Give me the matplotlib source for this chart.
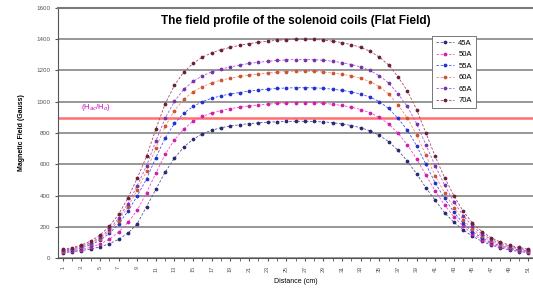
import matplotlib
matplotlib.use('Agg')
import matplotlib.pyplot as plt

plt.rcParams['font.family'] = ['Liberation Sans', 'DejaVu Sans']

# distance positions (cm) and tick labels
distance = list(range(1, 52))
tick_labels = [str(i) for i in range(1, 52, 2)]

labels = ['45A', '50A', '55A', '60A', '65A', '70A']
line_colors = ['#555599', '#FF44CC', '#4455FF', '#FF8866', '#AA55DD', '#AA4466']
marker_colors = ['#2a2a70', '#CC22AA', '#2233CC', '#CC5533', '#7733AA', '#6a2238']

b45 = [35, 40, 48, 58, 72, 92, 120, 160, 220, 330, 440, 550, 640, 710, 760, 795, 818, 834,
       845, 853, 860, 865, 869, 872, 874, 875, 875, 874, 871, 866, 858, 848, 834, 814, 785,
       745, 690, 620, 540, 450, 370, 290, 230, 180, 140, 108, 84, 66, 52, 42, 35]
b50 = [38, 45, 55, 69, 90, 120, 167, 228, 306, 419, 543, 664, 756, 826, 876, 906, 928, 944,
       956, 965, 973, 980, 985, 989, 993, 995, 995, 994, 990, 984, 976, 965, 950, 930, 900,
       858, 800, 725, 635, 530, 430, 340, 265, 203, 155, 118, 92, 72, 57, 46, 38]
b55 = [44, 52, 65, 85, 114, 158, 218, 300, 398, 507, 643, 768, 861, 927, 970, 1001, 1022, 1038,
       1050, 1059, 1068, 1075, 1080, 1085, 1088, 1090, 1090, 1089, 1086, 1080, 1073, 1063, 1049,
       1030, 1001, 957, 894, 818, 719, 600, 480, 382, 294, 223, 169, 129, 100, 80, 63, 52, 44]
b60 = [48, 57, 72, 93, 125, 173, 239, 329, 436, 556, 705, 842, 944, 1016, 1064, 1097, 1121, 1138,
       1151, 1162, 1171, 1178, 1184, 1189, 1193, 1195, 1195, 1194, 1190, 1184, 1176, 1165, 1150,
       1129, 1097, 1049, 980, 896, 789, 657, 526, 418, 323, 245, 185, 141, 110, 87, 69, 57, 48]
b65 = [51, 61, 76, 99, 133, 184, 254, 349, 464, 591, 749, 895, 1003, 1080, 1130, 1166, 1191, 1209,
       1223, 1234, 1245, 1252, 1259, 1264, 1267, 1270, 1270, 1269, 1265, 1259, 1250, 1238, 1222,
       1200, 1166, 1120, 1050, 970, 860, 725, 590, 468, 360, 272, 205, 155, 120, 95, 76, 62, 52]
b70 = [56, 67, 84, 109, 147, 203, 280, 385, 511, 651, 826, 987, 1106, 1190, 1246, 1285, 1313, 1333,
       1348, 1361, 1372, 1380, 1387, 1393, 1397, 1400, 1400, 1399, 1394, 1387, 1378, 1365, 1347,
       1323, 1285, 1235, 1160, 1070, 950, 800, 650, 515, 400, 300, 225, 170, 130, 103, 82, 68, 57]
series = [b45, b50, b55, b60, b65, b70]

ref_level = 895
ref_label = '(H$_{ac}$/H$_{o}$)'

fig = plt.figure(figsize=(5.33, 2.93), dpi=100)
ax = fig.add_axes([0.109, 0.119, 0.891, 0.854])

for vals, lab, lc, mc in zip(series, labels, line_colors, marker_colors):
    ax.plot(distance, vals, linestyle=(0, (3, 2)), lw=0.6, color=lc, marker='o', ms=1.7,
            mfc=mc, mec=mc, label=lab, zorder=3)

ax.axhline(ref_level, color='#FF6F6F', lw=1.8, zorder=2)
ax.text(3, ref_level + 35, ref_label, color='#CC00CC', fontsize=5.5, va='bottom')

ax.set_xlim(0.5, 51.5)
ax.set_ylim(0, 1600)
ax.set_yticks(range(0, 1601, 200))
ax.set_xticks(range(1, 52, 2))
ax.set_xticklabels(tick_labels, rotation=90, fontsize=4, color='#555555')
ax.set_xticks(range(1, 52), minor=True)
ax.tick_params(axis='y', labelsize=4.5, colors='#555555', length=2)
ax.tick_params(axis='x', which='both', length=2, colors='#555555')
ax.yaxis.grid(True, color='#7a7a7a', lw=1.1, zorder=1)
ax.set_axisbelow(True)
ax.spines['right'].set_visible(False)
ax.spines['top'].set_color('#7a7a7a')
ax.spines['top'].set_linewidth(1.5)
ax.spines['left'].set_color('#555555')
ax.spines['bottom'].set_color('#555555')

ax.set_title('The field profile of the solenoid coils (Flat Field)', fontsize=8.5,
             fontweight='bold', y=0.935, pad=0)
ax.set_ylabel('Magnetic Field (Gauss)', fontsize=5, fontweight='bold', labelpad=8)
ax.set_xlabel('Distance (cm)', fontsize=5, labelpad=4)

leg = ax.legend(loc='upper left', bbox_to_anchor=(0.78, 0.905), fontsize=5.5, frameon=True,
                fancybox=False, edgecolor='#777777', framealpha=1, handlelength=2.4,
                borderpad=0.5, labelspacing=0.55, handletextpad=0.5)
leg.get_frame().set_linewidth(0.7)

fig.savefig('out.png', dpi=100)
